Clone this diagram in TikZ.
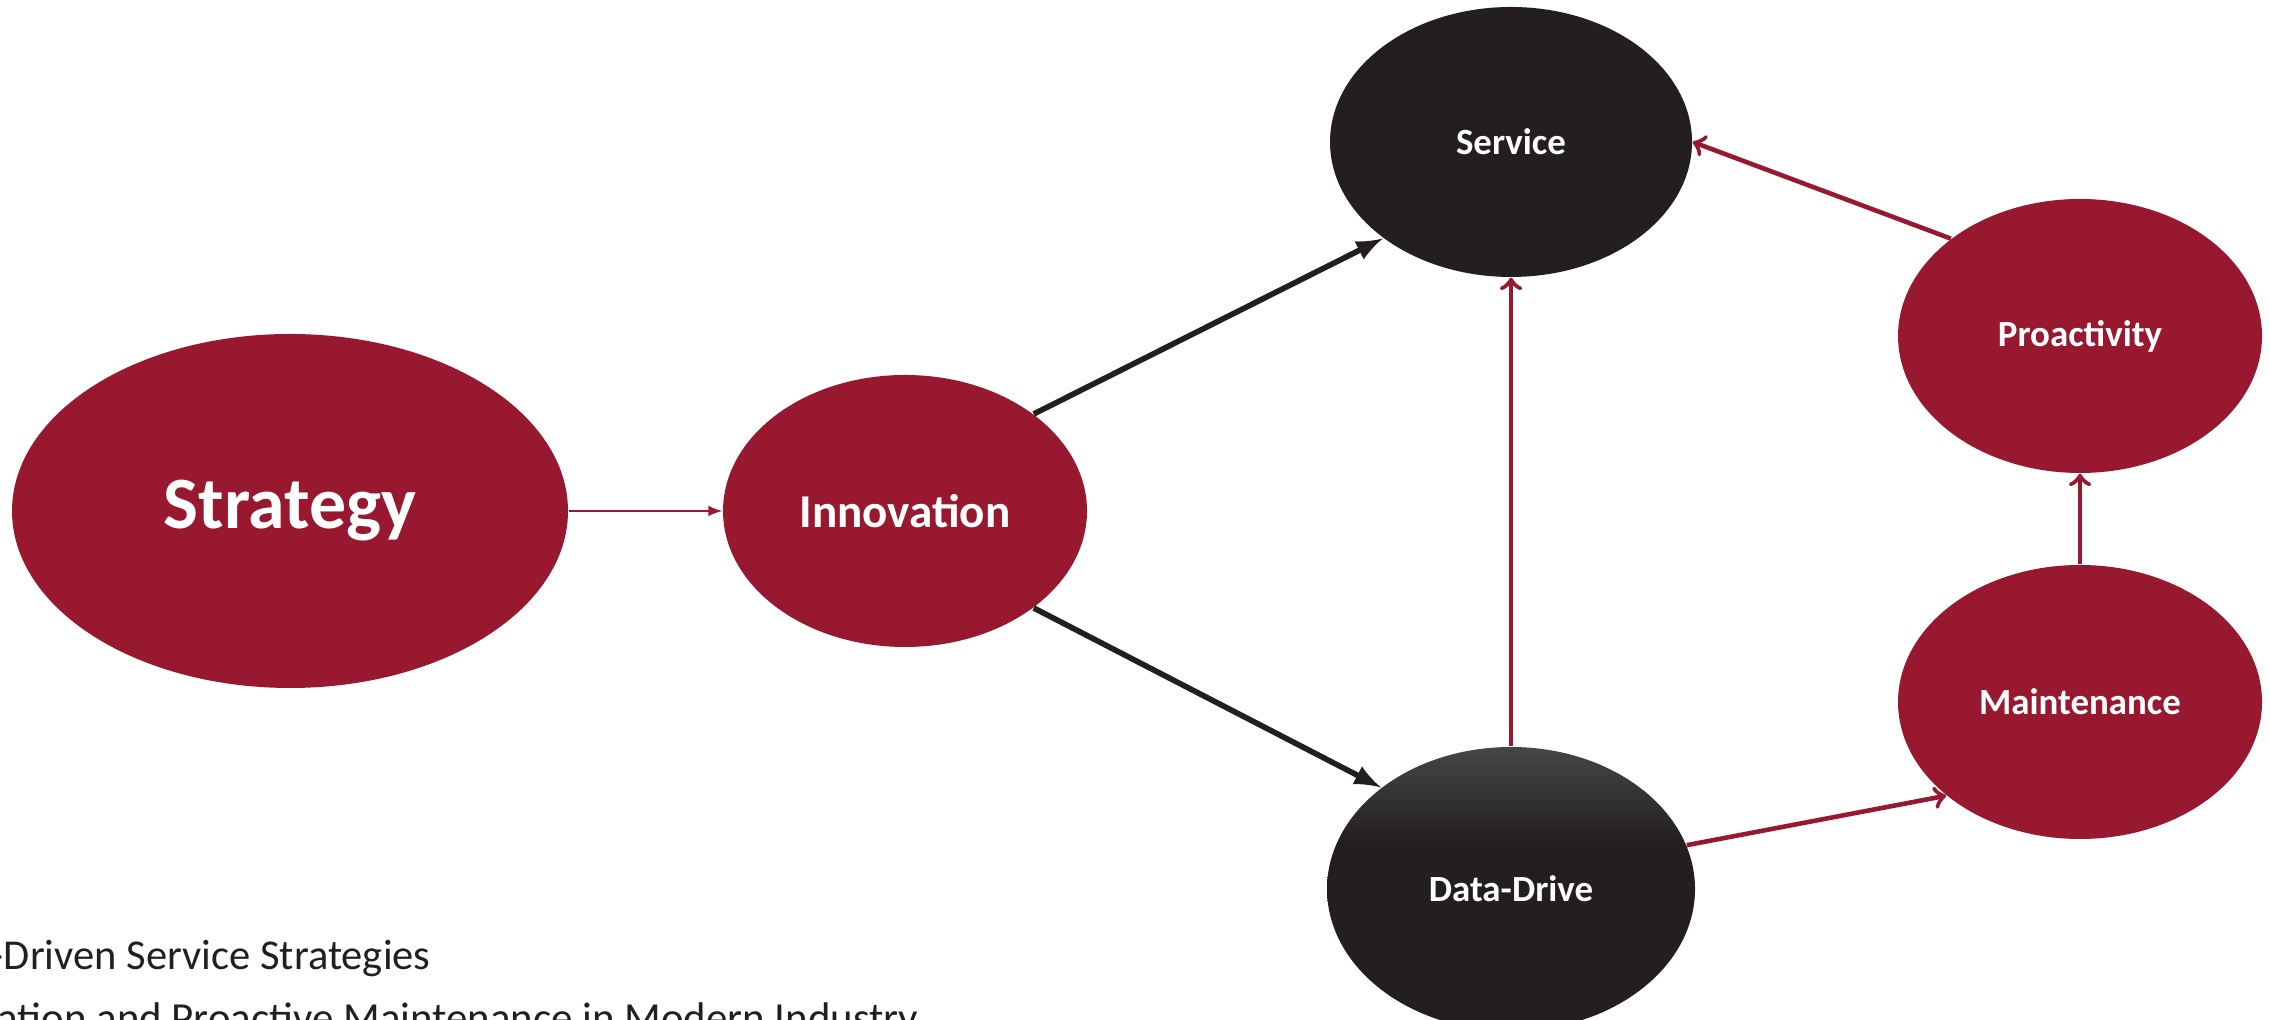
\documentclass[tikz,border=0pt]{standalone}
\usepackage{fontspec}
\setmainfont{Carlito}
\usetikzlibrary{shapes.geometric}
\definecolor{wine}{RGB}{151,24,47}
\definecolor{ink}{RGB}{35,31,32}
\definecolor{smoke}{RGB}{70,69,71}
\pgfdeclareverticalshading{ddshade}{100bp}{color(0bp)=(ink); color(58bp)=(ink); color(75bp)=(smoke); color(100bp)=(smoke)}

\begin{document}
\begin{tikzpicture}[
  blob/.style={ellipse, inner sep=0pt, text=white, font=\bfseries\fontsize{10.5}{12}\selectfont},
  redblob/.style={blob, fill=wine},
  darkblob/.style={blob, fill=ink},
  redline/.style={draw=wine, line width=1.3pt, ->},
  inkline/.style={draw=ink, line width=1.6pt, -latex}]

\path [use as bounding box, clip] (0,0) rectangle (22.7,10.2);

\node [redblob, minimum width=5.56cm, minimum height=3.54cm, font=\bfseries\fontsize{21}{24}\selectfont] (strat) at (2.90,5.09) {Strategy};
\node [redblob, minimum width=3.64cm, minimum height=2.72cm, font=\bfseries\fontsize{13.4}{16}\selectfont] (inno) at (9.05,5.09) {Innovation};
\node [darkblob, minimum width=3.62cm, minimum height=2.70cm] (serv) at (15.11,8.78) {Service};
\node [blob, minimum width=3.68cm, minimum height=2.84cm, shading=ddshade] (dd) at (15.11,1.31) {Data-Drive};
\node [redblob, minimum width=3.64cm, minimum height=2.74cm] (pro) at (20.80,6.84) {Proactivity};
\node [redblob, minimum width=3.64cm, minimum height=2.74cm] (mnt) at (20.80,3.18) {Maintenance};

\draw [draw=wine, line width=0.4pt, -latex] (strat.east) -- (inno.west);
\draw [inkline] (inno.37) -- (serv.217);
\draw [inkline] (inno.-37) -- (dd.142);
\draw [redline] (dd.north) -- (serv.south);
\draw [redline] (pro.143) -- (serv.east);
\draw [redline] (dd.14) -- (mnt.215);
\draw [redline] (mnt.north) -- (pro.south);

% caption lines, cut by the frame
\node [anchor=base west, text=ink, font=\fontsize{12.1}{14}\selectfont, inner sep=0pt] (cap1) at (-0.9,0.50) {Data-Driven Service Strategies};
\node [anchor=base west, text=ink, font=\fontsize{12.2}{14}\selectfont, inner sep=0pt] (cap2) at (-1.0,-0.13) {Innovation and Proactive Maintenance in Modern Industry};

\end{tikzpicture}
\end{document}
